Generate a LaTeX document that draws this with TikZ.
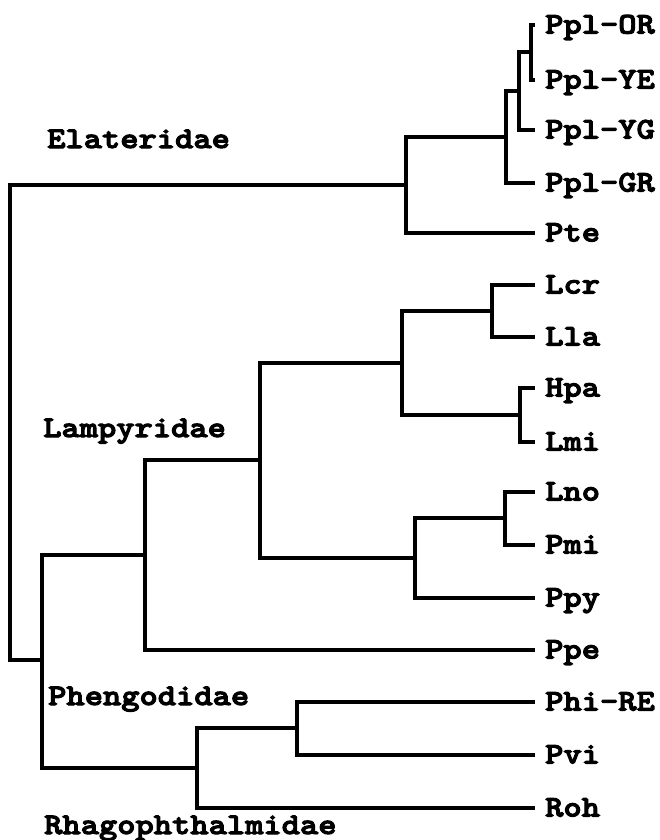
\documentclass[tikz,border=0pt]{standalone}
\usepackage{fontspec}
\newfontfamily\labfont{lmmonolt10-bold.otf}[FakeStretch=1.16,FakeBold=3.5]
\begin{document}
\begin{tikzpicture}[x=1pt,y=-1pt,
  br/.style={line width=3.8pt,line cap=butt,line join=miter},
  leaf/.style={anchor=base west,inner sep=0pt,font=\fontsize{30}{30}\selectfont\labfont},
  fam/.style={anchor=base west,inner sep=0pt,font=\fontsize{30}{30}\selectfont\labfont}]
\useasboundingbox (0,0) rectangle (659,840);
% tips
\coordinate (tOR) at (535,25);
\coordinate (tYE) at (535,80);
\coordinate (tYG) at (535,130);
\coordinate (tGR) at (535,183);
\coordinate (tPte) at (535,233);
\coordinate (tLcr) at (535,285);
\coordinate (tLla) at (535,337);
\coordinate (tHpa) at (535,388);
\coordinate (tLmi) at (535,442);
\coordinate (tLno) at (535,492);
\coordinate (tPmi) at (535,545);
\coordinate (tPpy) at (535,598);
\coordinate (tPpe) at (535,650);
\coordinate (tPhi) at (535,702);
\coordinate (tPvi) at (535,755);
\coordinate (tRoh) at (535,808);
% internal nodes
\coordinate (nORYE) at (531,52);
\coordinate (nYG) at (519,91);
\coordinate (nPpl) at (506,137);
\coordinate (nEla) at (406,185);
\coordinate (nLL) at (492,311);
\coordinate (nHL) at (520,415);
\coordinate (nL4) at (402,363);
\coordinate (nLP) at (505,518);
\coordinate (nL3) at (415,558);
\coordinate (nL7) at (260,460);
\coordinate (nLam) at (145,555);
\coordinate (nPP) at (297,728);
\coordinate (nPR) at (197,768);
\coordinate (nLow) at (42,660);
\coordinate (root) at (10,422);
% branches
\draw[br] (tOR) -| (nORYE) |- (tYE);
\draw[br] (nORYE) -| (nYG) |- (tYG);
\draw[br] (nYG) -| (nPpl) |- (tGR);
\draw[br] (nPpl) -| (nEla) |- (tPte);
\draw[br] (tLcr) -| (nLL) |- (tLla);
\draw[br] (tHpa) -| (nHL) |- (tLmi);
\draw[br] (nLL) -| (nL4) |- (nHL);
\draw[br] (tLno) -| (nLP) |- (tPmi);
\draw[br] (nLP) -| (nL3) |- (tPpy);
\draw[br] (nL4) -| (nL7) |- (nL3);
\draw[br] (nL7) -| (nLam) |- (tPpe);
\draw[br] (tPhi) -| (nPP) |- (tPvi);
\draw[br] (nPP) -| (nPR) |- (tRoh);
\draw[br] (nLam) -| (nLow) |- (nPR);
\draw[br] (nEla) -| (root) |- (nLow);
% leaf labels
\foreach \t/\s in {tOR/Ppl-OR,tYE/Ppl-YE,tYG/Ppl-YG,tGR/Ppl-GR,tPte/Pte,tLcr/Lcr,tLla/Lla,tHpa/Hpa,tLmi/Lmi,tLno/Lno,tPmi/Pmi,tPpy/Ppy,tPpe/Ppe,tPhi/Phi-RE,tPvi/Pvi,tRoh/Roh}
  \node[leaf] (l\t) at ([xshift=10pt,yshift=-8.5pt]\t) {\s};
% family labels
\node[fam] (fEla) at (47,148) {Elateridae};
\node[fam] (fLam) at (43,437) {Lampyridae};
\node[fam] (fPhe) at (48,705) {Phengodidae};
\node[fam] (fRha) at (44,834) {Rhagophthalmidae};
\end{tikzpicture}
\end{document}
